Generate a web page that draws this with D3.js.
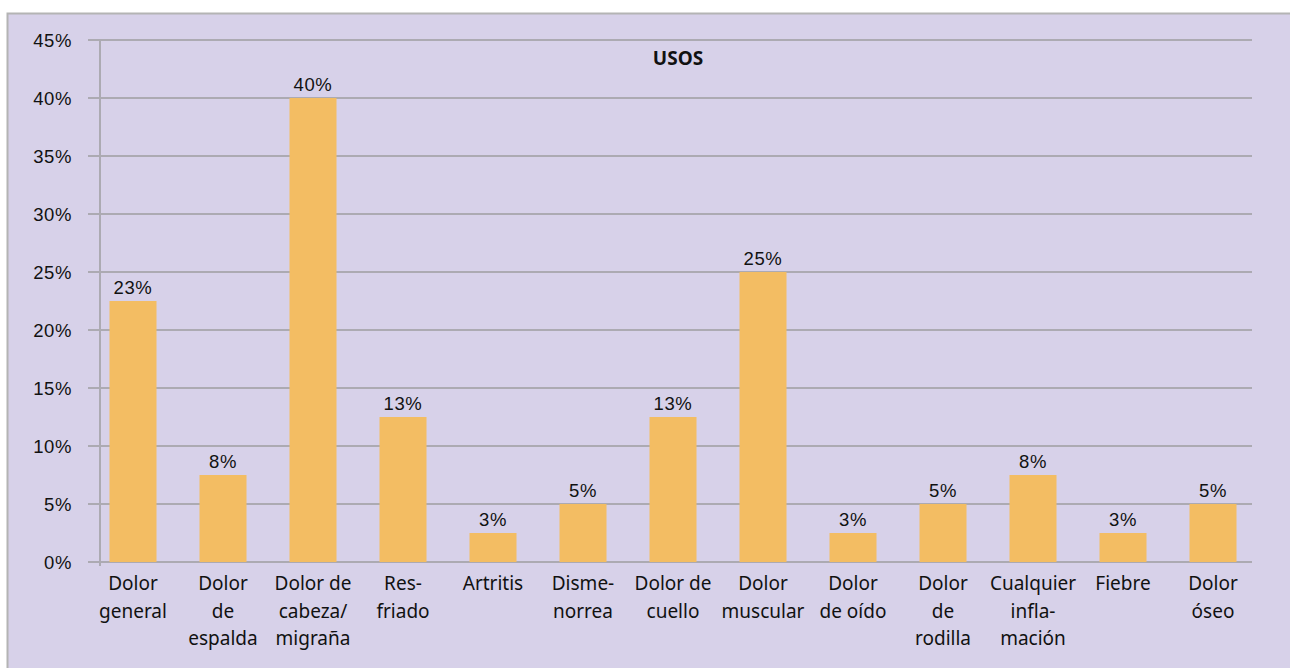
<!DOCTYPE html>
<html lang="es">
<head>
<meta charset="UTF-8">
<title>USOS</title>
<script src="https://d3js.org/d3.v7.min.js"></script>
<style>
  html, body { margin: 0; padding: 0; background: #fff; }
  svg { display: block; }
</style>
</head>
<body>
<div id="chart"></div>
<script>
// categories (line breaks as in the original)
var categories = [
  ["Dolor", "general"],
  ["Dolor", "de", "espalda"],
  ["Dolor de", "cabeza/", "migraña"],
  ["Res-", "friado"],
  ["Artritis"],
  ["Disme-", "norrea"],
  ["Dolor de", "cuello"],
  ["Dolor", "muscular"],
  ["Dolor", "de oído"],
  ["Dolor", "de", "rodilla"],
  ["Cualquier", "infla-", "mación"],
  ["Fiebre"],
  ["Dolor", "óseo"]
]
// percent values
var values = [22.5, 7.5, 40, 12.5, 2.5, 5, 12.5, 25, 2.5, 5, 7.5, 2.5, 5]
var yTicks = [0, 5, 10, 15, 20, 25, 30, 35, 40, 45]
var title = "USOS"

var width = 1290, height = 668
var bg = "#d7d1e9", barColor = "#f3bd63", gridColor = "#acaab2"
var labelFont = "'Noto Sans', sans-serif"
var numFont = "'Liberation Sans', Arial, sans-serif"

var svg = d3.select("#chart").append("svg")
  .attr("width", width).attr("height", height)

// panel with border on top and left
svg.append("rect").attr("x", 7).attr("y", 13)
  .attr("width", width - 7).attr("height", height - 13).attr("fill", bg)
svg.append("path").attr("d", "M7.5," + height + "V13.5H" + width)
  .attr("fill", "none").attr("stroke", "#b4b4b4").attr("stroke-width", 2)

var idx = d3.range(categories.length)
var x = d3.scaleBand().domain(idx).range([88, 1258])
var barW = 47
var y = d3.scaleLinear().domain([0, 45]).range([562, 40])

// gridlines
svg.append("g").selectAll("line").data(yTicks).join("line")
  .attr("x1", 88).attr("x2", 1252)
  .attr("y1", d => y(d)).attr("y2", d => y(d))
  .attr("stroke", gridColor).attr("stroke-width", 2)

// y axis line
svg.append("line").attr("x1", 100).attr("x2", 100)
  .attr("y1", y(45)).attr("y2", y(0) + 4)
  .attr("stroke", gridColor).attr("stroke-width", 2)

// y tick labels
svg.append("g").selectAll("text").data(yTicks).join("text")
  .attr("x", 72).attr("y", d => y(d)).attr("dy", "0.36em")
  .attr("text-anchor", "end")
  .attr("font-family", numFont).attr("font-size", 18.5).attr("fill", "#111")
  .attr("letter-spacing", 0.6)
  .text(d => d + "%")

// bars
svg.append("g").selectAll("rect").data(values).join("rect")
  .attr("x", (d, i) => x(i) + x.bandwidth() / 2 - barW / 2)
  .attr("width", barW)
  .attr("y", d => y(d))
  .attr("height", d => y(0) - y(d))
  .attr("fill", barColor)

// value labels
svg.append("g").selectAll("text").data(values).join("text")
  .attr("x", (d, i) => x(i) + x.bandwidth() / 2)
  .attr("y", d => y(d) - 7)
  .attr("text-anchor", "middle")
  .attr("font-family", numFont).attr("font-size", 18.5).attr("fill", "#111")
  .attr("letter-spacing", 0.6)
  .text(d => Math.round(d) + "%")

// category labels
var cat = svg.append("g").selectAll("text").data(categories).join("text")
  .attr("x", (d, i) => x(i) + x.bandwidth() / 2)
  .attr("y", 590)
  .attr("text-anchor", "middle")
  .attr("font-family", labelFont).attr("font-size", 19).attr("fill", "#111")
cat.selectAll("tspan").data(d => d).join("tspan")
  .attr("x", function() { return d3.select(this.parentNode).attr("x") })
  .attr("dy", (d, i) => i ? 27.5 : 0)
  .text(d => d)

// title
svg.append("text").attr("x", 678).attr("y", 65)
  .attr("text-anchor", "middle")
  .attr("font-family", labelFont).attr("font-size", 19).attr("font-weight", "bold")
  .attr("fill", "#111")
  .text(title)
</script>
</body>
</html>
